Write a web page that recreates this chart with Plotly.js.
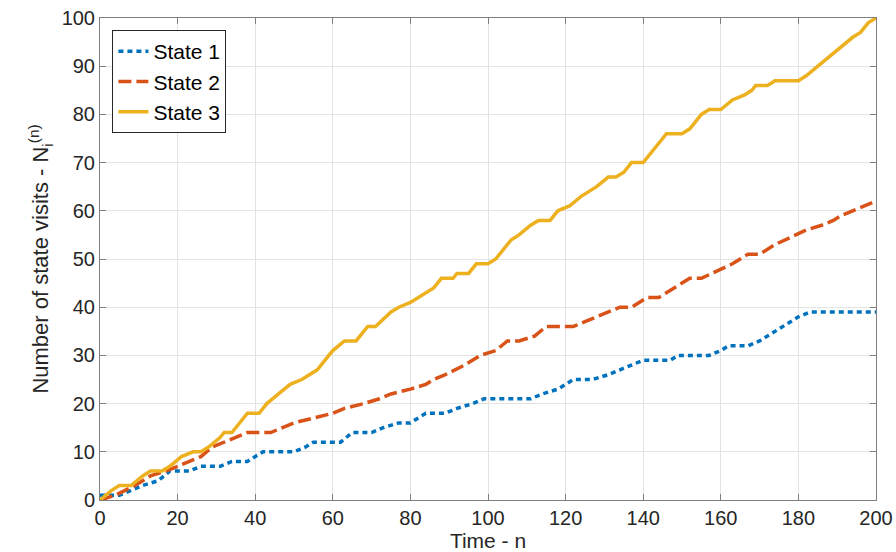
<!DOCTYPE html>
<html>
<head>
<meta charset="utf-8">
<script src="https://cdn.plot.ly/plotly-3.0.1.min.js"></script>
<style>html,body{margin:0;padding:0;background:#fff;}#chart{width:896px;height:552px;}</style>
</head>
<body>
<div id="chart"></div>
<script>
// State 1 (blue) : time n and cumulative visits
const n1 = [0,5,8,11,15,18,23,26,31,34,38,40,42,50,53,55,62,65,70,73,77,80,82,84,89,92,96,99,111,114,118,120,122,127,131,134,137,140,147,149,157,160,162,167,170,172,174,178,180,183,200];
const s1 = [1,1,2,3,4,6,6,7,7,8,8,9,10,10,11,12,12,14,14,15,16,16,17,18,18,19,20,21,21,22,23,24,25,25,26,27,28,29,29,30,30,31,32,32,33,34,35,37,38,39,39];
// State 2 (orange)
const n2 = [0,4,9,13,17,20,23,26,29,32,35,38,44,47,50,55,60,63,68,72,75,80,84,86,89,94,98,102,105,108,112,115,122,125,128,131,134,137,139,141,144,148,152,155,160,163,167,170,174,179,182,186,189,191,194,200];
const s2 = [0,1,3,5,6,7,8,9,11,12,13,14,14,15,16,17,18,19,20,21,22,23,24,25,26,28,30,31,33,33,34,36,36,37,38,39,40,40,41,42,42,44,46,46,48,49,51,51,53,55,56,57,58,59,60,62];
// State 3 (yellow)
const n3 = [0,3,5,8,11,13,16,18,21,24,26,28,31,32,34,36,38,41,43,46,49,52,54,56,58,60,63,66,69,71,75,77,80,82,84,86,88,91,92,95,97,100,102,104,106,108,111,113,116,118,121,124,126,128,131,133,135,137,140,142,144,146,150,152,155,157,160,163,166,168,169,172,174,180,182,185,188,191,194,196,198,200];
const s3 = [0,2,3,3,5,6,6,7,9,10,10,11,13,14,14,16,18,18,20,22,24,25,26,27,29,31,33,33,36,36,39,40,41,42,43,44,46,46,47,47,49,49,50,52,54,55,57,58,58,60,61,63,64,65,67,67,68,70,70,72,74,76,76,77,80,81,81,83,84,85,86,86,87,87,88,90,92,94,96,97,99,100];

const names = ['State 1','State 2','State 3'];
const xTicks = [0,20,40,60,80,100,120,140,160,180,200];
const yTicks = [0,10,20,30,40,50,60,70,80,90,100];

const FONT = 'Liberation Sans, Arial, Helvetica, sans-serif';
const txt = '#262626';

const traces = [
  {x:n1, y:s1, name:names[0], mode:'lines', line:{color:'#0072BD', width:3.5, dash:'5px,4px'}},
  {x:n2, y:s2, name:names[1], mode:'lines', line:{color:'#D95319', width:3.5, dash:'13px,5px'}},
  {x:n3, y:s3, name:names[2], mode:'lines', line:{color:'#EDB120', width:3.5}}
];

const axisCommon = {
  showline:true, linecolor:'#7f7f7f', linewidth:1, mirror:'ticks',
  ticks:'inside', ticklen:6, tickcolor:'#7f7f7f', tickwidth:1,
  showgrid:true, gridcolor:'#e3e3e3', gridwidth:1, zeroline:false,
  tickfont:{family:FONT, size:20, color:txt}
};

const layout = {
  width:896, height:552,
  margin:{l:100, r:20, t:18, b:52},
  paper_bgcolor:'#fff', plot_bgcolor:'#fff',
  showlegend:true,
  legend:{x:0.016, y:0.975, xanchor:'left', yanchor:'top',
    bgcolor:'#fff', bordercolor:'#262626', borderwidth:1,
    font:{family:FONT, size:21, color:'#000'}, tracegroupgap:0},
  xaxis:Object.assign({}, axisCommon, {range:[0,200], tickvals:xTicks, ticktext:xTicks.map(String),
    title:{text:'Time - n', font:{family:FONT, size:21, color:txt}, standoff:4}}),
  yaxis:Object.assign({}, axisCommon, {range:[0,100], tickvals:yTicks, ticktext:yTicks.map(String),
    title:{text:'Number of state visits - N<sub>i</sub><sup>(n)</sup>', font:{family:FONT, size:22, color:txt}, standoff:6}}),
  hovermode:false
};

Plotly.newPlot('chart', traces, layout, {displayModeBar:false, staticPlot:true});
</script>
</body>
</html>
